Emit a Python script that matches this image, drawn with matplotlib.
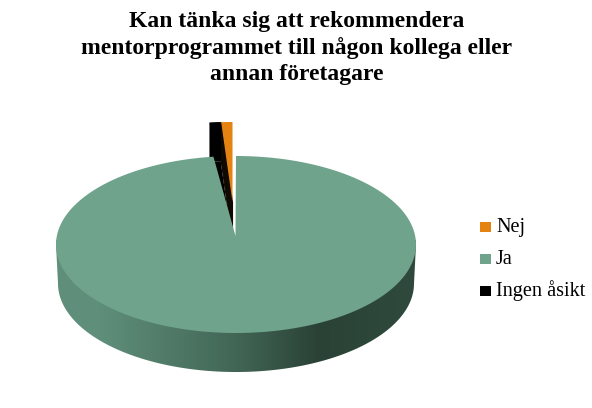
import numpy as np
import matplotlib
matplotlib.use("Agg")
import matplotlib.pyplot as plt
from matplotlib.colors import LinearSegmentedColormap
from matplotlib.patches import Polygon, Rectangle

title = "Kan tänka sig att rekommendera\nmentorprogrammet till någon kollega eller\nannan företagare"
categories = ["Nej", "Ja", "Ingen åsikt"]
values = [1, 98, 1]
colors = ["#E48312", "#6FA38C", "#000000"]


def arc(cx, cy, rx, ry, a0, a1):
    # angles in degrees clockwise from 12 o'clock
    t = np.radians(np.linspace(a0, a1, 300))
    return np.column_stack([cx + rx * np.sin(t), cy - ry * np.cos(t)])


def wedge(apex, cx, cy, rx, ry, a0, a1):
    return np.vstack([apex, arc(cx, cy, rx, ry, a0, a1)])


fig = plt.figure(figsize=(5.92, 4.08), dpi=100)
ax = fig.add_axes([0, 0, 1, 1])
ax.set_xlim(0, 592)
ax.set_ylim(408, 0)
ax.axis("off")

fracs = np.array(values) / sum(values) * 360
rx, ry = 180, 88.5
cx, cy = 236, 244.5
depth = 39

# the two small slices are pulled out towards the top
ox, oy = 232.5, 210.5
a_nej = (360 - fracs[0], 360)
a_ing = (360 - fracs[0] - fracs[2], 360 - fracs[0])

ing_top = wedge((232, 202), ox - 0.5, oy, rx, ry, *a_ing)
ing_arc = ing_top[1:]
ax.add_patch(Polygon(ing_top + [0, depth], fc=colors[2], ec="none", zorder=1))
ax.add_patch(Polygon(np.vstack([ing_arc, (ing_arc + [0, depth])[::-1]]), fc=colors[2], ec="none", zorder=1))
ax.add_patch(Polygon(ing_top, fc=colors[2], ec="none", zorder=2))

nej_apex = (232.5, 202)
nej_top = wedge(nej_apex, ox, oy, rx, ry, *a_nej)
p0 = nej_top[1]
ax.add_patch(Polygon([p0, nej_apex, np.add(nej_apex, [0, depth]), p0 + [0, depth]],
                     fc="#100902", ec="#100902", lw=0.8, zorder=3))
ax.add_patch(Polygon(nej_top, fc=colors[0], ec="none", zorder=4))

# side wall of the large slice, shaded left to right
side_cmap = LinearSegmentedColormap.from_list(
    "side", [(0, "#5F8F7B"), (0.12, "#5F8F7B"), (0.5, "#426655"), (0.73, "#2A4236"), (1, "#2F4A3D")])
grad = np.linspace(0, 1, 256).reshape(1, -1)
im = ax.imshow(grad, cmap=side_cmap, extent=(56, 416, 375, 240), aspect="auto", zorder=5)
low = arc(cx, cy + depth, 178, ry, 90, 270)
upper = arc(cx, cy, rx, ry, 270, 90 + 360)
clip = Polygon(np.vstack([low, upper]), transform=ax.transData, fc="none", ec="none")
ax.add_patch(clip)
im.set_clip_path(clip)
ax.set_xlim(0, 592)
ax.set_ylim(408, 0)

# top face of the large slice
ja_top = wedge((235.5, 236), cx, cy, rx, ry, 0, fracs[1])
ax.add_patch(Polygon(ja_top, fc=colors[1], ec="none", zorder=6))

ax.text(297, 48, title, ha="center", va="center", fontsize=17, fontweight="bold",
        family="Liberation Serif", linespacing=1.28, color="black")

# legend rows sit on fixed baselines, 32 px apart
for i, (label, c) in enumerate(zip(categories, colors)):
    base = 232 + 32 * i
    ax.add_patch(Rectangle((480, base - 10.5), 11, 10.5, fc=c, ec="none"))
    ax.text(496, base, label, ha="left", va="baseline", fontsize=14.6,
            family="Liberation Serif", color="black")

fig.savefig("out.png", dpi=100, facecolor="white")
